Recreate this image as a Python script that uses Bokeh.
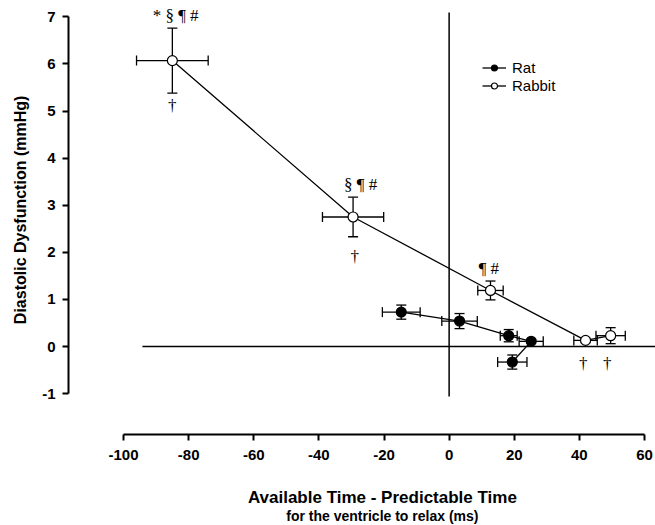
import numpy as np
from bokeh.plotting import figure
from bokeh.models import (Range1d, FixedTicker, Whisker, ColumnDataSource, TeeHead,
                          Legend, LegendItem)
from bokeh.core.properties import value
from bokeh.embed import file_html
from bokeh.resources import INLINE

# ---------------- data ----------------
rat_x = [-14.7, 3.2, 18.3, 25.2, 19.4]
rat_y = [0.73, 0.54, 0.23, 0.11, -0.33]
rat_xerr = [5.8, 5.45, 2.6, 3.7, 4.5]
rat_yerr = [0.15, 0.16, 0.13, 0.04, 0.15]

rabbit_x = [-85.0, -29.5, 12.7, 41.9, 49.6]
rabbit_y = [6.07, 2.75, 1.19, 0.13, 0.23]
rabbit_xerr = [11.0, 9.4, 3.9, 3.6, 4.5]
rabbit_yerr = [0.69, 0.42, 0.20, 0.04, 0.17]

ann_x = [-84.0, -85.0, -27.2, -29.0, 12.2, 41.2, 48.6]
ann_y = [7.03, 5.12, 3.45, 1.91, 1.65, -0.37, -0.37]
ann_text = ["* § ¶ #", "†", "§ ¶ #", "†", "¶ #", "†", "†"]

x_ticks = [-100, -80, -60, -40, -20, 0, 20, 40, 60]
x_tick_labels = ["-100", "-80", "-60", "-40", "-20", "0", "20", "40", "60"]
y_ticks = [-1, 0, 1, 2, 3, 4, 5, 6, 7]
y_tick_labels = ["-1", "0", "1", "2", "3", "4", "5", "6", "7"]

# zero reference lines
hline_x = [-94.2, 63.4]
hline_y = [0, 0]
vline_x = [0, 0]
vline_y = [-1.06, 7.09]

# axis placement (offset axes) in data units
x_axis_at_y = -1.868
y_axis_at_x = -116.9

titles = ["Available Time - Predictable Time", "for the ventricle to relax (ms)"]
titles_x = [-20.5, -20.5]
titles_y = [-3.21, -3.60]
titles_size = ["17px", "14px"]
y_title = "Diastolic Dysfunction (mmHg)"
y_title_x = -131.6
y_title_y = 2.9

FONT = "Liberation Sans"

# ---------------- figure ----------------
p = figure(width=655, height=525, output_backend="svg", toolbar_location=None,
           x_range=Range1d(-137.78, 63.38), y_range=Range1d(-3.80, 7.346),
           min_border=0)
p.grid.visible = False
p.outline_line_color = None
p.background_fill_color = "white"
p.border_fill_color = "white"

p.xaxis.fixed_location = x_axis_at_y
p.yaxis.fixed_location = y_axis_at_x

for ax, ticks, labels in ((p.xaxis[0], x_ticks, x_tick_labels),
                          (p.yaxis[0], y_ticks, y_tick_labels)):
    ax.bounds = (ticks[0], ticks[-1])
    ax.ticker = FixedTicker(ticks=ticks)
    ax.major_label_overrides = {t: l for t, l in zip(ticks, labels)}
    ax.minor_tick_line_color = None
    ax.major_tick_in = 0
    ax.major_tick_out = 6
    ax.axis_line_width = 2
    ax.major_tick_line_width = 2
    ax.axis_line_color = "black"
    ax.major_tick_line_color = "black"
    ax.major_label_text_font = FONT
    ax.major_label_text_font_style = "bold"
    ax.major_label_text_font_size = "15px"
    ax.major_label_text_color = "black"

p.xaxis.major_label_standoff = 10
p.yaxis.major_label_standoff = 7

# zero reference lines
p.line(hline_x, hline_y, line_color="black", line_width=1.5)
p.line(vline_x, vline_y, line_color="black", line_width=1.5)

def error_bars(xs, ys, xe, ye):
    xs, ys, xe, ye = map(np.asarray, (xs, ys, xe, ye))
    src = ColumnDataSource(dict(x=xs, y=ys, xl=xs - xe, xu=xs + xe, yl=ys - ye, yu=ys + ye))
    for dim, base, lo, up in (("height", "x", "yl", "yu"), ("width", "y", "xl", "xu")):
        w = Whisker(source=src, base=base, lower=lo, upper=up, dimension=dim,
                    line_color="black", line_width=1.3,
                    upper_head=TeeHead(size=10, line_width=1.3, line_color="black"),
                    lower_head=TeeHead(size=10, line_width=1.3, line_color="black"))
        p.add_layout(w)

error_bars(rat_x, rat_y, rat_xerr, rat_yerr)
error_bars(rabbit_x, rabbit_y, rabbit_xerr, rabbit_yerr)

rat_line = p.line(rat_x, rat_y, line_color="black", line_width=1.3)
rab_line = p.line(rabbit_x, rabbit_y, line_color="black", line_width=1.3)
rat_pts = p.scatter(rat_x, rat_y, marker="circle", size=10, fill_color="black",
                    line_color="black", line_width=1.2)
rab_pts = p.scatter(rabbit_x, rabbit_y, marker="circle", size=10, fill_color="white",
                    line_color="black", line_width=1.2)

p.text(x=ann_x, y=ann_y, text=ann_text, text_font=value("Liberation Serif"),
       text_font_size="17px", text_align="center", text_baseline="middle",
       text_color="black")

# axis titles
src_t = ColumnDataSource(dict(x=titles_x, y=titles_y, t=titles, s=titles_size))
p.text(x="x", y="y", text="t", text_font_size="s", source=src_t,
       text_font=value(FONT), text_font_style="bold", text_align="center",
       text_baseline="middle", text_color="black")
p.text(x=[y_title_x], y=[y_title_y], text=[y_title], angle=np.pi / 2,
       text_font=value(FONT), text_font_style="bold", text_font_size="16px",
       text_align="center", text_baseline="middle", text_color="black")

legend = Legend(items=[LegendItem(label="Rat", renderers=[rat_line, rat_pts]),
                       LegendItem(label="Rabbit", renderers=[rab_line, rab_pts])],
                location=(482, 431), orientation="vertical",
                border_line_color=None, background_fill_alpha=0,
                padding=0, margin=0, spacing=1, glyph_width=24, glyph_height=15,
                label_height=15, label_standoff=6,
                label_text_font=FONT, label_text_font_size="15px",
                label_text_color="black")
p.add_layout(legend)

open("out.html", "w").write(file_html(p, INLINE))
